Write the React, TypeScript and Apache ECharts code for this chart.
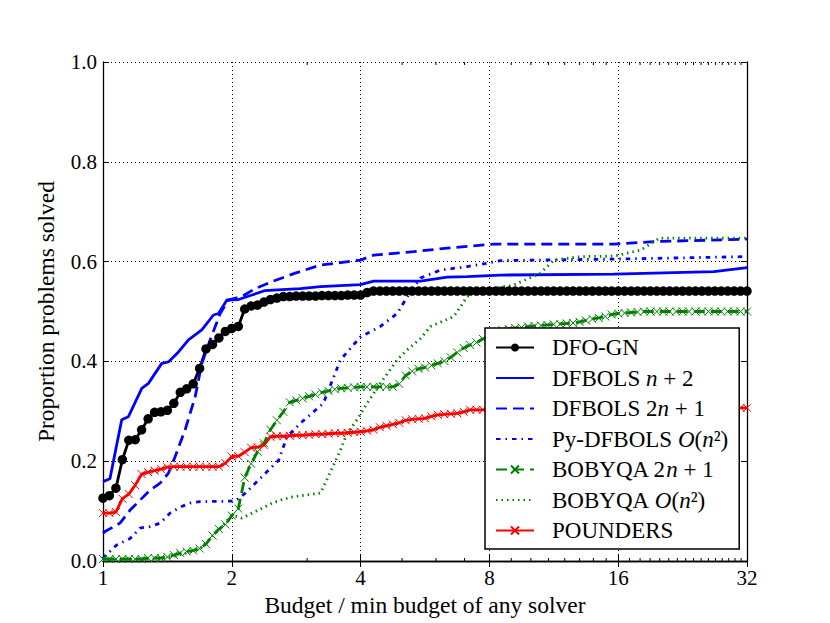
import React, { useEffect, useRef } from "react";
import * as echarts from "echarts";

const FONT = "Liberation Serif, serif";

// Shared budget sample points (ratio to min budget) used by the marker series
const BUDGET_GRID = [
  1, 1.035, 1.072, 1.11, 1.149, 1.189, 1.231, 1.275, 1.32, 1.366,
  1.414, 1.464, 1.516, 1.569, 1.625, 1.682, 1.741, 1.803, 1.866, 1.932,
  2, 2.071, 2.144, 2.219, 2.297, 2.378, 2.462, 2.549, 2.639, 2.732,
  2.828, 2.928, 3.031, 3.138, 3.249, 3.364, 3.482, 3.605, 3.732, 3.864,
  4, 4.141, 4.287, 4.438, 4.595, 4.757, 4.925, 5.099, 5.278, 5.464,
  5.657, 5.856, 6.063, 6.277, 6.498, 6.727, 6.964, 7.21, 7.464, 7.727,
  8, 8.282, 8.574, 8.877, 9.19, 9.514, 9.849, 10.2, 10.56, 10.93,
  11.31, 11.71, 12.13, 12.55, 13.0, 13.45, 13.93, 14.42, 14.93, 15.45,
  16, 16.56, 17.15, 17.75, 18.38, 19.03, 19.7, 20.39, 21.11, 21.86,
  22.63, 23.43, 24.25, 25.11, 25.99, 26.91, 27.86, 28.84, 29.86, 30.91,
  32,
];

const DFO_GN = [
  0.126, 0.131, 0.146, 0.203, 0.242, 0.243, 0.263, 0.285, 0.298, 0.299,
  0.302, 0.316, 0.338, 0.345, 0.355, 0.386, 0.425, 0.434, 0.447, 0.46,
  0.466, 0.47, 0.505, 0.511, 0.513, 0.519, 0.524, 0.527, 0.53, 0.53,
  0.531, 0.531, 0.531, 0.531, 0.532, 0.532, 0.532, 0.532, 0.533, 0.533,
  0.533, 0.538, 0.541, 0.541, 0.541, 0.541, 0.541, 0.541, 0.541, 0.541,
  0.541, 0.541, 0.541, 0.541, 0.541, 0.541, 0.541, 0.541, 0.541, 0.541,
  0.541, 0.541, 0.541, 0.541, 0.541, 0.541, 0.541, 0.541, 0.541, 0.541,
  0.541, 0.541, 0.541, 0.541, 0.541, 0.541, 0.541, 0.541, 0.541, 0.541,
  0.541, 0.541, 0.541, 0.541, 0.541, 0.541, 0.541, 0.541, 0.541, 0.541,
  0.541, 0.541, 0.541, 0.541, 0.541, 0.541, 0.541, 0.541, 0.541, 0.541,
  0.541,
];

const BOBYQA_2N1 = [
  0.004, 0.004, 0.004, 0.004, 0.004, 0.004, 0.004, 0.006, 0.006, 0.006,
  0.008, 0.012, 0.016, 0.019, 0.021, 0.025, 0.034, 0.051, 0.064, 0.073,
  0.091, 0.105, 0.167, 0.195, 0.219, 0.236, 0.263, 0.282, 0.299, 0.318,
  0.322, 0.326, 0.33, 0.334, 0.338, 0.341, 0.344, 0.346, 0.347, 0.348,
  0.349, 0.349, 0.349, 0.349, 0.349, 0.349, 0.355, 0.372, 0.38, 0.385,
  0.388, 0.392, 0.396, 0.401, 0.408, 0.418, 0.427, 0.433, 0.438, 0.445,
  0.452, 0.459, 0.463, 0.465, 0.467, 0.468, 0.47, 0.471, 0.472, 0.473,
  0.474, 0.475, 0.476, 0.477, 0.479, 0.482, 0.485, 0.487, 0.49, 0.494,
  0.496, 0.497, 0.498, 0.499, 0.5, 0.5, 0.5, 0.5, 0.5, 0.5,
  0.5, 0.5, 0.5, 0.5, 0.5, 0.5, 0.5, 0.5, 0.5, 0.5,
  0.5,
];

const POUNDERS = [
  0.096, 0.096, 0.098, 0.125, 0.134, 0.152, 0.174, 0.178, 0.181, 0.184,
  0.188, 0.189, 0.189, 0.189, 0.189, 0.189, 0.189, 0.189, 0.189, 0.196,
  0.209, 0.21, 0.218, 0.227, 0.228, 0.232, 0.249, 0.25, 0.25, 0.251,
  0.252, 0.252, 0.253, 0.254, 0.254, 0.255, 0.256, 0.256, 0.257, 0.258,
  0.259, 0.261, 0.263, 0.268, 0.271, 0.274, 0.277, 0.282, 0.284, 0.285,
  0.286, 0.29, 0.293, 0.294, 0.295, 0.296, 0.299, 0.303, 0.303, 0.303,
  0.303, 0.303, 0.304, 0.304, 0.304, 0.304, 0.304, 0.305, 0.305, 0.305,
  0.305, 0.305, 0.305, 0.305, 0.306, 0.306, 0.306, 0.306, 0.306, 0.306,
  0.306, 0.306, 0.307, 0.307, 0.307, 0.307, 0.307, 0.307, 0.307, 0.307,
  0.307, 0.307, 0.307, 0.307, 0.307, 0.307, 0.307, 0.307, 0.307, 0.307,
  0.307,
];

const DFBOLS_N2_X = [1, 1.038, 1.106, 1.146, 1.232, 1.277, 1.372, 1.422, 1.501, 1.584, 1.702, 1.812, 1.862, 1.948, 2.074, 2.229, 2.394, 2.62, 2.892, 3.221, 3.996, 4.292, 5.522, 6.376, 7.101, 8.498, 15.63, 26.78, 32];
const DFBOLS_N2_Y = [0.159, 0.165, 0.283, 0.289, 0.346, 0.356, 0.396, 0.399, 0.419, 0.443, 0.463, 0.493, 0.496, 0.523, 0.524, 0.533, 0.542, 0.544, 0.546, 0.55, 0.554, 0.561, 0.561, 0.569, 0.57, 0.573, 0.575, 0.58, 0.588];

const DFBOLS_2N1_X = [1, 1.011, 1.096, 1.157, 1.221, 1.288, 1.36, 1.422, 1.474, 1.556, 1.642, 1.702, 1.78, 1.879, 1.965, 2.112, 2.269, 2.483, 2.815, 3.221, 3.996, 4.292, 5.317, 6.376, 8.182, 15.63, 19.39, 32];
const DFBOLS_2N1_Y = [0.056, 0.059, 0.076, 0.102, 0.122, 0.142, 0.156, 0.176, 0.209, 0.263, 0.329, 0.396, 0.443, 0.496, 0.523, 0.53, 0.546, 0.56, 0.577, 0.593, 0.603, 0.613, 0.62, 0.627, 0.635, 0.635, 0.64, 0.645];

const PYDFBOLS_X = [1, 1.011, 1.076, 1.157, 1.221, 1.288, 1.36, 1.435, 1.515, 1.598, 1.687, 2.037, 2.15, 2.352, 2.573, 2.692, 2.892, 3.273, 3.588, 3.996, 4.45, 4.869, 5.232, 5.522, 6.15, 7.101, 8.052, 8.498, 15.63, 32];
const PYDFBOLS_Y = [0.005, 0.01, 0.032, 0.045, 0.066, 0.069, 0.076, 0.096, 0.108, 0.116, 0.119, 0.12, 0.136, 0.169, 0.202, 0.249, 0.276, 0.316, 0.403, 0.449, 0.47, 0.496, 0.54, 0.567, 0.583, 0.59, 0.598, 0.602, 0.605, 0.61];

const BOBYQA_ON2_X = [1, 1.36, 1.474, 1.598, 1.687, 1.78, 1.879, 2.001, 2.112, 2.269, 2.483, 2.596, 2.789, 3.221, 3.278, 3.588, 3.719, 3.925, 4.142, 4.45, 4.869, 5.139, 5.522, 5.828, 6.607, 6.85, 7.101, 7.346, 9.115, 10.54, 11.31, 13.08, 15.63, 18.07, 19.39, 19.97, 32];
const BOBYQA_ON2_Y = [0.002, 0.004, 0.01, 0.018, 0.025, 0.045, 0.065, 0.092, 0.086, 0.099, 0.116, 0.122, 0.129, 0.136, 0.149, 0.222, 0.256, 0.283, 0.316, 0.356, 0.403, 0.423, 0.446, 0.47, 0.49, 0.51, 0.53, 0.54, 0.553, 0.577, 0.603, 0.61, 0.611, 0.623, 0.64, 0.647, 0.647];

const X_TICKS_MINOR = [3, 5, 6, 7, 9, 10, 11, 12, 13, 14, 15, 17, 18, 19, 20, 21, 22, 23, 24, 25, 26, 27, 28, 29, 30, 31];

const SERIES_NAMES = [
  "DFO-GN",
  "DFBOLS n+2",
  "DFBOLS 2n+1",
  "Py-DFBOLS O(n2)",
  "BOBYQA 2n+1",
  "BOBYQA O(n2)",
  "POUNDERS",
];

const LEGEND_LABELS: Record<string, string> = {
  "DFO-GN": "{g| }{r|DFO-GN}",
  "DFBOLS n+2": "{g| }{r|DFBOLS }{i|n}{r| + 2}",
  "DFBOLS 2n+1": "{g| }{r|DFBOLS 2}{i|n}{r| + 1}",
  "Py-DFBOLS O(n2)": "{g| }{r|Py-DFBOLS }{i|O}{r|(}{i|n}{r|²)}",
  "BOBYQA 2n+1": "{g| }{r|BOBYQA 2}{i|n}{r| + 1}",
  "BOBYQA O(n2)": "{g| }{r|BOBYQA }{i|O}{r|(}{i|n}{r|²)}",
  POUNDERS: "{g| }{r|POUNDERS}",
};

const CROSS = "path://M0,0L10,10M10,0L0,10";
const NO_SYMBOL_STYLE = { color: "rgba(0,0,0,0)", borderWidth: 0 };

function pairs(xs: number[], ys: number[]) {
  return xs.map((x, i) => [x, ys[i]]);
}

export default function App() {
  const ref = useRef<HTMLDivElement>(null);

  useEffect(() => {
    if (!ref.current) return;
    const chart = echarts.init(ref.current, null, { renderer: "svg" });

    const axisLine = { show: true, lineStyle: { color: "#000", width: 1.3 } };
    const tick = { show: true, inside: true, length: 6, lineStyle: { color: "#000", width: 1 } };
    const gridLine = { show: true, lineStyle: { color: "#000", width: 1, type: [1, 3] } };

    const option: any = {
      animation: false,
      backgroundColor: "#fff",
      textStyle: { fontFamily: FONT, color: "#000" },
      grid: { left: 103, top: 62, right: 83, bottom: 62 },
      xAxis: [
        {
          type: "log",
          logBase: 2,
          min: 1,
          max: 32,
          position: "bottom",
          axisLine,
          axisTick: tick,
          axisLabel: {
            fontFamily: FONT,
            fontSize: 21,
            color: "#000",
            margin: 6,
            showMinLabel: true,
            showMaxLabel: true,
            formatter: (v: number) => String(Math.round(v)),
          },
          splitLine: gridLine,
          name: "Budget / min budget of any solver",
          nameLocation: "middle",
          nameGap: 28,
          nameTextStyle: { fontFamily: FONT, fontSize: 23.5, color: "#000" },
        },
        {
          type: "log",
          logBase: 2,
          min: 1,
          max: 32,
          position: "top",
          axisLine,
          axisTick: tick,
          axisLabel: { show: false },
          splitLine: { show: false },
        },
      ],
      yAxis: [
        {
          type: "value",
          min: 0,
          max: 1,
          interval: 0.2,
          position: "left",
          axisLine,
          axisTick: tick,
          axisLabel: {
            fontFamily: FONT,
            fontSize: 21,
            color: "#000",
            margin: 6,
            formatter: (v: number) => v.toFixed(1),
          },
          splitLine: gridLine,
          name: "Proportion problems solved",
          nameLocation: "middle",
          nameGap: 45,
          nameTextStyle: { fontFamily: FONT, fontSize: 23.5, color: "#000" },
        },
        {
          type: "value",
          min: 0,
          max: 1,
          interval: 0.2,
          position: "right",
          axisLine,
          axisTick: tick,
          axisLabel: { show: false },
          splitLine: { show: false },
        },
      ],
      legend: {
        data: SERIES_NAMES,
        orient: "vertical",
        left: 485,
        top: 328,
        padding: [8, 11, 7, 10],
        itemGap: 7.5,
        itemWidth: 38,
        itemHeight: 10,
        backgroundColor: "#fff",
        borderColor: "#000",
        borderWidth: 1.5,
        borderRadius: 0,
        formatter: (name: string) => LEGEND_LABELS[name] || name,
        textStyle: {
          fontFamily: FONT,
          fontSize: 23,
          color: "#000",
          lineHeight: 22,
          rich: {
            g: { width: 13, fontSize: 23, fontFamily: FONT },
            r: { fontFamily: FONT, fontSize: 23, color: "#000", lineHeight: 22 },
            i: { fontFamily: FONT, fontSize: 23, fontStyle: "italic", color: "#000", lineHeight: 22 },
          },
        },
      },
      series: [
        {
          name: "DFO-GN",
          type: "line",
          data: pairs(BUDGET_GRID, DFO_GN),
          color: "#000",
          lineStyle: { color: "#000", width: 2.8 },
          symbol: "circle",
          symbolSize: 9.5,
          showSymbol: true,
          itemStyle: { color: "#000" },
        },
        {
          name: "DFBOLS n+2",
          type: "line",
          data: pairs(DFBOLS_N2_X, DFBOLS_N2_Y),
          color: "#0000ff",
          lineStyle: { color: "#0000ff", width: 2.8 },
          symbol: "none",
          itemStyle: NO_SYMBOL_STYLE,
        },
        {
          name: "DFBOLS 2n+1",
          type: "line",
          data: pairs(DFBOLS_2N1_X, DFBOLS_2N1_Y),
          color: "#0000ff",
          lineStyle: { color: "#0000ff", width: 2.8, type: [11, 6] },
          symbol: "none",
          itemStyle: NO_SYMBOL_STYLE,
        },
        {
          name: "Py-DFBOLS O(n2)",
          type: "line",
          data: pairs(PYDFBOLS_X, PYDFBOLS_Y),
          color: "#0000ff",
          lineStyle: { color: "#0000ff", width: 2.8, type: [4.5, 5, 1.5, 5] },
          symbol: "none",
          itemStyle: NO_SYMBOL_STYLE,
        },
        {
          name: "BOBYQA 2n+1",
          type: "line",
          data: pairs(BUDGET_GRID, BOBYQA_2N1),
          color: "#008000",
          lineStyle: { color: "#008000", width: 2.8, type: [11, 6] },
          symbol: CROSS,
          symbolSize: 8,
          showSymbol: true,
          itemStyle: { color: "#008000", borderColor: "#008000", borderWidth: 1 },
        },
        {
          name: "BOBYQA O(n2)",
          type: "line",
          data: pairs(BOBYQA_ON2_X, BOBYQA_ON2_Y),
          color: "#008000",
          lineStyle: { color: "#008000", width: 2.8, type: [1.5, 4] },
          symbol: "none",
          itemStyle: NO_SYMBOL_STYLE,
        },
        {
          name: "POUNDERS",
          type: "line",
          data: pairs(BUDGET_GRID, POUNDERS),
          color: "#ff0000",
          lineStyle: { color: "#ff0000", width: 2.8 },
          symbol: CROSS,
          symbolSize: 8,
          showSymbol: true,
          itemStyle: { color: "#ff0000", borderColor: "#ff0000", borderWidth: 1 },
        },
        {
          name: "minorTicks",
          type: "custom",
          silent: true,
          xAxisIndex: 0,
          yAxisIndex: 0,
          data: X_TICKS_MINOR.map((v) => [v, 0]),
          z: 10,
          clip: false,
          renderItem: (params: any, api: any) => {
            const b = api.coord([api.value(0), 0]);
            const t = api.coord([api.value(0), 1]);
            const style = { stroke: "#000", lineWidth: 1 };
            return {
              type: "group",
              children: [
                { type: "line", shape: { x1: b[0], y1: b[1], x2: b[0], y2: b[1] - 3 }, style },
                { type: "line", shape: { x1: t[0], y1: t[1], x2: t[0], y2: t[1] + 3 }, style },
              ],
            };
          },
        },
      ],
    };

    chart.setOption(option);
    return () => chart.dispose();
  }, []);

  return (
    <div
      ref={ref}
      style={{ position: "absolute", left: 0, top: 0, width: 830, height: 623, background: "#fff" }}
    />
  );
}
